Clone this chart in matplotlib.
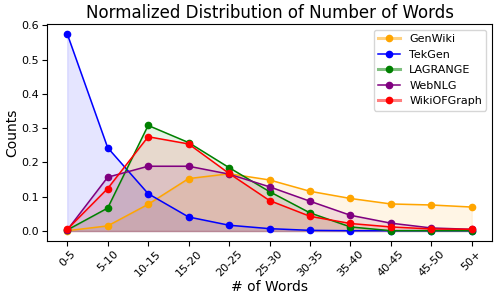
import matplotlib.pyplot as plt
from matplotlib.lines import Line2D

bins = ["0-5", "5-10", "10-15", "15-20", "20-25", "25-30", "30-35", "35-40", "40-45", "45-50", "50+"]

genwiki = [0.001, 0.015, 0.078, 0.153, 0.167, 0.149, 0.116, 0.095, 0.079, 0.076, 0.070]
tekgen = [0.575, 0.243, 0.109, 0.041, 0.017, 0.007, 0.002, 0.001, 0.001, 0.001, 0.001]
lagrange = [0.003, 0.067, 0.308, 0.258, 0.185, 0.115, 0.053, 0.012, 0.001, 0.001, 0.001]
webnlg = [0.003, 0.157, 0.189, 0.189, 0.166, 0.129, 0.087, 0.046, 0.023, 0.009, 0.005]
wikiofgraph = [0.005, 0.124, 0.275, 0.254, 0.168, 0.089, 0.043, 0.022, 0.012, 0.006, 0.005]

names = ["GenWiki", "TekGen", "LAGRANGE", "WebNLG", "WikiOFGraph"]
colors = ["orange", "blue", "green", "purple", "red"]
series = [genwiki, tekgen, lagrange, webnlg, wikiofgraph]
# legend entries that show a faded, thicker line
faded = ["GenWiki", "LAGRANGE", "WikiOFGraph"]

fig, ax = plt.subplots(figsize=(5, 3), dpi=100)
x = range(len(bins))
handles = []
for name, c, vals in zip(names, colors, series):
    ax.plot(x, vals, marker="o", markersize=4.5, color=c, linewidth=1.1)
    ax.fill_between(x, vals, color=c, alpha=0.1)
    if name in faded:
        h = (Line2D([], [], color=c, linewidth=2.2, alpha=0.5),
             Line2D([], [], color=c, marker="o", markersize=4.5, linestyle="none"))
    else:
        h = Line2D([], [], color=c, marker="o", markersize=4.5, linewidth=1.1)
    handles.append(h)

ax.set_xticks(list(x))
ax.set_xticklabels(bins, rotation=45, fontsize=8)
ax.tick_params(axis="y", labelsize=8, pad=2)
ax.tick_params(axis="x", pad=2)
ax.set_title("Normalized Distribution of Number of Words", fontsize=12, pad=4)
ax.set_xlabel("# of Words", fontsize=10, labelpad=1)
ax.set_ylabel("Counts", fontsize=10, labelpad=2)
ax.legend(handles, names, fontsize=8)
plt.subplots_adjust(left=0.094, right=0.984, top=0.92, bottom=0.197)
plt.savefig("out.png")
